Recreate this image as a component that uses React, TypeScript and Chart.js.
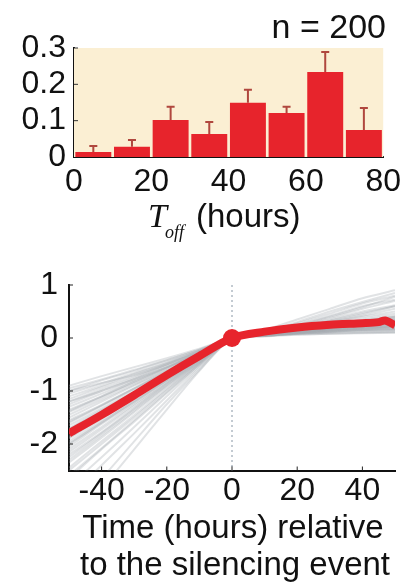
import React, { useEffect, useRef } from 'react';
import { Chart, registerables } from 'chart.js';
Chart.register(...registerables);

// ---------- data: top histogram ----------
const BIN_CENTERS = [5, 15, 25, 35, 45, 55, 65, 75];
const BIN_VALUES = [0.014, 0.028, 0.102, 0.063, 0.149, 0.121, 0.234, 0.074];
const BIN_ERR_TOP = [0.03, 0.047, 0.138, 0.096, 0.185, 0.138, 0.289, 0.135];
const TOP_Y_TICKS = [0, 0.1, 0.2, 0.3];
const TOP_X_TICKS = [0, 20, 40, 60, 80];
const N_LABEL = 'n = 200';
const TOP_X_TITLE_MAIN = 'T';
const TOP_X_TITLE_SUB = 'off';
const TOP_X_TITLE_REST = '(hours)';

// ---------- data: bottom traces ----------
const TIMES = [-50, -40, -30, -20, -10, 0, 10, 20, 30, 40, 50];
const TRACES: number[][] = [
  [-0.9, -0.72, -0.55, -0.38, -0.2, 0, 0.15, 0.35, 0.55, 0.75, 0.9],
  [-1.0, -0.8, -0.62, -0.42, -0.22, 0, 0.12, 0.3, 0.5, 0.68, 0.85],
  [-1.1, -0.9, -0.68, -0.47, -0.24, 0, 0.1, 0.25, 0.42, 0.6, 0.72],
  [-1.2, -0.97, -0.75, -0.5, -0.26, 0, 0.1, 0.22, 0.35, 0.5, 0.62],
  [-1.3, -1.05, -0.8, -0.55, -0.28, 0, 0.08, 0.18, 0.3, 0.4, 0.5],
  [-1.4, -1.12, -0.85, -0.58, -0.3, 0, 0.08, 0.15, 0.24, 0.32, 0.4],
  [-1.5, -1.2, -0.9, -0.62, -0.32, 0, 0.07, 0.14, 0.2, 0.26, 0.3],
  [-1.55, -1.26, -0.95, -0.64, -0.33, 0, 0.06, 0.12, 0.17, 0.22, 0.25],
  [-1.65, -1.33, -1.0, -0.68, -0.34, 0, 0.05, 0.1, 0.14, 0.17, 0.2],
  [-1.75, -1.4, -1.05, -0.7, -0.36, 0, 0.05, 0.09, 0.12, 0.14, 0.15],
  [-1.85, -1.48, -1.1, -0.74, -0.37, 0, 0.04, 0.08, 0.1, 0.11, 0.12],
  [-1.95, -1.56, -1.16, -0.77, -0.39, 0, 0.04, 0.07, 0.08, 0.09, 0.1],
  [-2.05, -1.62, -1.22, -0.8, -0.4, 0, 0.05, 0.1, 0.16, 0.2, 0.22],
  [-2.15, -1.72, -1.28, -0.85, -0.42, 0, 0.06, 0.13, 0.2, 0.26, 0.3],
  [-2.25, -1.8, -1.34, -0.88, -0.44, 0, 0.07, 0.15, 0.22, 0.28, 0.34],
  [-2.35, -1.88, -1.4, -0.92, -0.46, 0, 0.06, 0.12, 0.18, 0.24, 0.28],
  [-2.5, -2.0, -1.5, -0.98, -0.48, 0, 0.05, 0.1, 0.15, 0.19, 0.22],
  [-2.65, -2.1, -1.58, -1.04, -0.5, 0, 0.08, 0.18, 0.3, 0.42, 0.55],
  [-2.8, -2.25, -1.68, -1.1, -0.53, 0, 0.09, 0.2, 0.32, 0.45, 0.6],
  [-3.0, -2.4, -1.8, -1.18, -0.56, 0, 0.1, 0.22, 0.38, 0.55, 0.7],
  [-3.3, -2.65, -1.95, -1.25, -0.6, 0, 0.1, 0.24, 0.4, 0.58, 0.78],
  [-3.6, -2.85, -2.1, -1.35, -0.62, 0, 0.12, 0.28, 0.46, 0.65, 0.8],
  [-1.0, -0.85, -0.7, -0.5, -0.27, 0, 0.06, 0.1, 0.13, 0.15, 0.16],
  [-1.2, -1.0, -0.78, -0.55, -0.3, 0, 0.05, 0.11, 0.18, 0.25, 0.32],
  [-1.35, -1.1, -0.82, -0.56, -0.29, 0, 0.09, 0.2, 0.33, 0.47, 0.6],
  [-1.6, -1.28, -0.96, -0.65, -0.33, 0, 0.07, 0.16, 0.25, 0.34, 0.42],
  [-2.0, -1.6, -1.2, -0.8, -0.4, 0, 0.03, 0.06, 0.08, 0.1, 0.11],
  [-2.2, -1.78, -1.32, -0.86, -0.43, 0, 0.04, 0.09, 0.12, 0.16, 0.18],
  [-1.8, -1.45, -1.08, -0.72, -0.36, 0, 0.06, 0.13, 0.19, 0.25, 0.29],
  [-1.9, -1.52, -1.13, -0.75, -0.38, 0, 0.07, 0.14, 0.21, 0.27, 0.33],
  [-0.95, -0.78, -0.6, -0.42, -0.22, 0, 0.08, 0.16, 0.24, 0.3, 0.36],
  [-1.05, -0.86, -0.66, -0.46, -0.24, 0, 0.05, 0.1, 0.15, 0.19, 0.22],
  [-1.15, -0.93, -0.72, -0.49, -0.25, 0, 0.07, 0.14, 0.22, 0.3, 0.38],
  [-1.25, -1.0, -0.77, -0.52, -0.27, 0, 0.04, 0.08, 0.12, 0.15, 0.17],
  [-1.45, -1.16, -0.88, -0.6, -0.31, 0, 0.06, 0.12, 0.18, 0.23, 0.27],
  [-1.7, -1.36, -1.02, -0.69, -0.35, 0, 0.05, 0.11, 0.16, 0.21, 0.24],
  [-2.1, -1.68, -1.25, -0.83, -0.41, 0, 0.05, 0.11, 0.17, 0.22, 0.26],
  [-2.3, -1.84, -1.37, -0.9, -0.45, 0, 0.08, 0.16, 0.25, 0.33, 0.4],
  [-2.45, -1.95, -1.46, -0.96, -0.47, 0, 0.04, 0.08, 0.11, 0.13, 0.14],
  [-2.6, -2.08, -1.55, -1.02, -0.5, 0, 0.06, 0.13, 0.2, 0.27, 0.34],
  [-1.58, -1.27, -0.95, -0.63, -0.32, 0, 0.04, 0.09, 0.14, 0.18, 0.21],
  [-1.88, -1.5, -1.12, -0.74, -0.37, 0, 0.06, 0.12, 0.18, 0.24, 0.27],
  [-2.0, -1.59, -1.19, -0.79, -0.39, 0, 0.07, 0.15, 0.23, 0.31, 0.37],
  [-1.38, -1.1, -0.83, -0.56, -0.28, 0, 0.05, 0.1, 0.14, 0.18, 0.2],
  [-1.72, -1.38, -1.03, -0.69, -0.35, 0, 0.08, 0.17, 0.27, 0.37, 0.46],
];
const MEAN_TIMES = [-50, -40, -30, -20, -10, 0, 10, 20, 30, 40, 45, 47, 50];
const MEAN_VALUES = [-1.8, -1.45, -1.08, -0.7, -0.34, 0, 0.12, 0.2, 0.25, 0.28, 0.3, 0.33, 0.24];
const EVENT_POINT = [{ x: 0, y: 0 }];
const BOTTOM_Y_TICKS = [-2, -1, 0, 1];
const BOTTOM_X_TICKS = [-40, -20, 0, 20, 40];
const BOTTOM_TITLE = ['Time (hours) relative', 'to the silencing event'];

const RED = '#e7242c';
const ERR = '#b0473e';
const CREAM = '#fbefd3';
const GRAY_TRACE = 'rgba(165,170,175,0.33)';
const FONT = 'Liberation Sans, Arial, Helvetica, sans-serif';

Chart.defaults.font.family = FONT;

export default function App() {
  const topRef = useRef<HTMLCanvasElement>(null);
  const botRef = useRef<HTMLCanvasElement>(null);

  useEffect(() => {
    const bg = {
      id: 'bg',
      beforeDatasetsDraw(chart: any) {
        const { ctx, chartArea: a } = chart;
        ctx.save();
        ctx.fillStyle = CREAM;
        ctx.fillRect(a.left, a.top, a.right - a.left, a.bottom - a.top);
        ctx.restore();
      },
    };
    const extras = {
      id: 'extras',
      afterDatasetsDraw(chart: any) {
        const { ctx, chartArea: a } = chart;
        const xs = chart.scales.x;
        const ys = chart.scales.y;
        ctx.save();
        ctx.strokeStyle = ERR;
        ctx.lineWidth = 2;
        BIN_CENTERS.forEach((c, i) => {
          const x = xs.getPixelForValue(c);
          const y1 = ys.getPixelForValue(BIN_VALUES[i]);
          const y2 = ys.getPixelForValue(BIN_ERR_TOP[i]);
          ctx.beginPath();
          ctx.moveTo(x, y1);
          ctx.lineTo(x, y2);
          ctx.moveTo(x - 4, y2);
          ctx.lineTo(x + 4, y2);
          ctx.stroke();
        });
        ctx.strokeStyle = '#333';
        ctx.lineWidth = 1;
        TOP_Y_TICKS.slice(1).forEach((v) => {
          const y = ys.getPixelForValue(v);
          ctx.beginPath();
          ctx.moveTo(a.left, y);
          ctx.lineTo(a.left + 4, y);
          ctx.stroke();
        });
        // n label
        ctx.fillStyle = '#111';
        ctx.font = `34px ${FONT}`;
        ctx.textAlign = 'right';
        ctx.textBaseline = 'alphabetic';
        ctx.fillText(N_LABEL, 386, 38);
        // x title
        ctx.textAlign = 'left';
        ctx.font = `italic 34px Liberation Serif, serif`;
        ctx.fillText(TOP_X_TITLE_MAIN, 148, 227);
        ctx.font = `italic 18px Liberation Serif, serif`;
        ctx.fillText(TOP_X_TITLE_SUB, 165, 238);
        ctx.font = `33px ${FONT}`;
        ctx.fillText(TOP_X_TITLE_REST, 196, 227);
        ctx.restore();
      },
    };

    const top = new Chart(topRef.current!, {
      type: 'bar',
      data: {
        datasets: [
          {
            data: BIN_CENTERS.map((x, i) => ({ x, y: BIN_VALUES[i] })),
            backgroundColor: RED,
            borderWidth: 0,
            barPercentage: 0.93,
            categoryPercentage: 1,
          } as any,
        ],
      },
      options: {
        animation: false,
        responsive: false,
        maintainAspectRatio: false,
        layout: { padding: { top: 48, right: 21, left: 0, bottom: 0 } },
        plugins: { legend: { display: false }, tooltip: { enabled: false } },
        scales: {
          x: {
            type: 'linear',
            min: 0,
            max: 80,
            offset: false,
            grid: { display: false, drawTicks: false },
            border: { color: '#111', width: 2 },
            ticks: { color: '#111', font: { size: 32 }, padding: 6, autoSkip: false, maxRotation: 0 },
            afterBuildTicks: (s: any) => {
              s.ticks = TOP_X_TICKS.map((v) => ({ value: v }));
            },
            afterFit: (s: any) => {
              s.height = 88;
            },
          },
          y: {
            min: 0,
            max: 0.3,
            grid: { display: false, drawTicks: false },
            border: { color: '#111', width: 2 },
            ticks: {
              color: '#111',
              font: { size: 32 },
              padding: 8,
              autoSkip: false,
              callback: (v: any) => (v === 0 ? '0' : Number(v).toFixed(1)),
            },
            afterBuildTicks: (s: any) => {
              s.ticks = TOP_Y_TICKS.map((v) => ({ value: v }));
            },
            afterFit: (s: any) => {
              s.width = 74;
            },
          },
        },
      } as any,
      plugins: [bg, extras],
    });

    const vline = {
      id: 'vline',
      beforeDatasetsDraw(chart: any) {
        const { ctx, chartArea: a } = chart;
        const x = chart.scales.x.getPixelForValue(0);
        ctx.save();
        ctx.strokeStyle = '#8796a4';
        ctx.lineWidth = 1;
        ctx.setLineDash([2, 3]);
        ctx.beginPath();
        ctx.moveTo(x, a.top);
        ctx.lineTo(x, a.bottom);
        ctx.stroke();
        ctx.restore();
      },
      afterDatasetsDraw(chart: any) {
        const { ctx, chartArea: a } = chart;
        const xs = chart.scales.x;
        const ys = chart.scales.y;
        ctx.save();
        ctx.strokeStyle = '#222';
        ctx.lineWidth = 1;
        BOTTOM_X_TICKS.forEach((v) => {
          const x = xs.getPixelForValue(v);
          ctx.beginPath();
          ctx.moveTo(x, a.bottom);
          ctx.lineTo(x, a.bottom - 4);
          ctx.stroke();
        });
        BOTTOM_Y_TICKS.forEach((v) => {
          const y = ys.getPixelForValue(v);
          ctx.beginPath();
          ctx.moveTo(a.left, y);
          ctx.lineTo(a.left + 4, y);
          ctx.stroke();
        });
        ctx.fillStyle = '#111';
        ctx.font = `33px ${FONT}`;
        ctx.textAlign = 'center';
        ctx.textBaseline = 'middle';
        ctx.fillText(BOTTOM_TITLE[0], 233, 284);
        ctx.fillText(BOTTOM_TITLE[1], 235, 321);
        ctx.restore();
      },
    };

    const bot = new Chart(botRef.current!, {
      type: 'line',
      data: {
        datasets: [
          {
            data: EVENT_POINT,
            showLine: false,
            pointRadius: 9,
            pointBackgroundColor: RED,
            pointBorderWidth: 0,
          },
          {
            data: MEAN_TIMES.map((t, j) => ({ x: t, y: MEAN_VALUES[j] })),
            borderColor: RED,
            borderWidth: 8,
            pointRadius: 0,
            tension: 0.3,
          },
          ...TRACES.map((tr) => ({
            data: TIMES.map((t, j) => ({ x: t, y: tr[j] })),
            borderColor: GRAY_TRACE,
            borderWidth: 2,
            pointRadius: 0,
            tension: 0.25,
          })),
        ],
      },
      options: {
        animation: false,
        responsive: false,
        maintainAspectRatio: false,
        layout: { padding: { top: 40, right: 12, left: 0, bottom: 0 } },
        plugins: { legend: { display: false }, tooltip: { enabled: false } },
        scales: {
          x: {
            type: 'linear',
            min: -50,
            max: 50,
            grid: { display: false, drawTicks: false },
            border: { color: '#111', width: 2 },
            ticks: { color: '#111', font: { size: 32 }, padding: 1, autoSkip: false, maxRotation: 0 },
            afterBuildTicks: (s: any) => {
              s.ticks = BOTTOM_X_TICKS.map((v) => ({ value: v }));
            },
            afterFit: (s: any) => {
              s.height = 117.5;
            },
          },
          y: {
            min: -2.5,
            max: 1,
            grid: { display: false, drawTicks: false },
            border: { color: '#111', width: 2 },
            ticks: { color: '#111', font: { size: 32 }, padding: 11, autoSkip: false },
            afterBuildTicks: (s: any) => {
              s.ticks = BOTTOM_Y_TICKS.map((v) => ({ value: v }));
            },
            afterFit: (s: any) => {
              s.width = 69;
            },
          },
        },
      } as any,
      plugins: [vline],
    });

    return () => {
      top.destroy();
      bot.destroy();
    };
  }, []);

  return (
    <div style={{ position: 'fixed', left: 0, top: 0, width: 407, height: 588, background: '#fff' }}>
      <canvas ref={topRef} width={407} height={245} style={{ position: 'absolute', left: 0, top: 0, width: 407, height: 245 }} />
      <canvas ref={botRef} width={407} height={343} style={{ position: 'absolute', left: 0, top: 245, width: 407, height: 343 }} />
    </div>
  );
}
